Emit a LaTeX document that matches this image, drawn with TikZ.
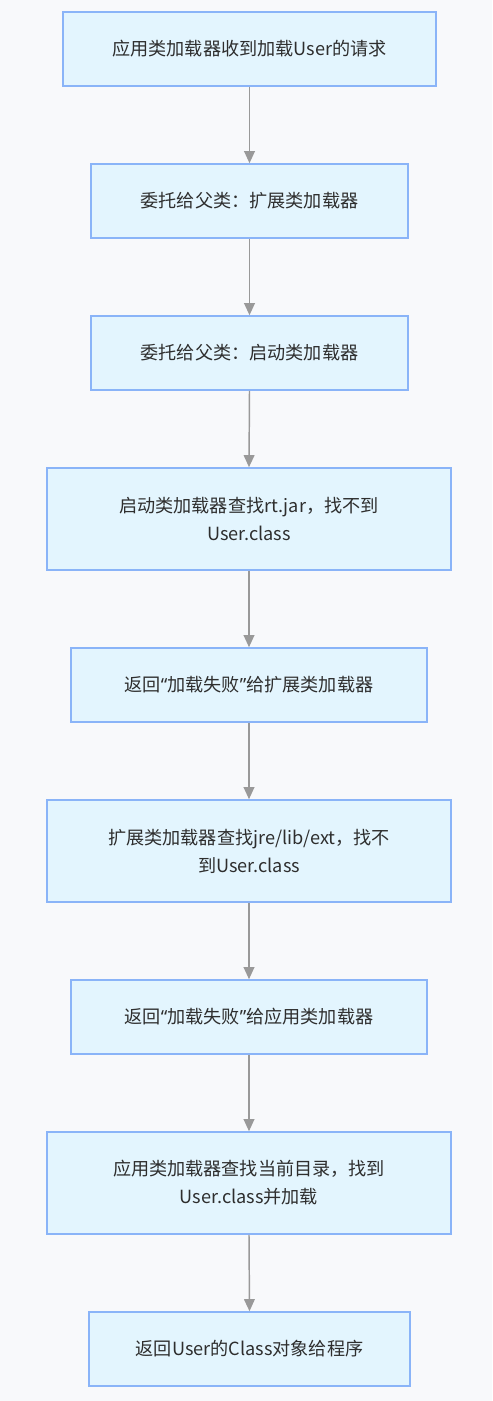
\documentclass[tikz,border=0pt]{standalone}
\usepackage{fontspec}
\setmainfont{Noto Sans CJK SC}
\newfontfamily\latinq{Noto Sans}
\newcommand{\myLq}{{\latinq “}}
\newcommand{\myRq}{{\latinq ”}}
\usetikzlibrary{arrows.meta}
\definecolor{bgc}{HTML}{F8F9FB}
\definecolor{boxfill}{HTML}{E3F5FE}
\definecolor{boxline}{HTML}{8AB4F8}
\definecolor{arrc}{HTML}{999999}
\begin{document}
\begin{tikzpicture}[x=0.75pt,y=-0.75pt,
  stepbox/.style={draw=boxline,fill=boxfill,line width=1.2pt,align=center,
    font=\fontsize{13.6pt}{21pt}\selectfont,text=black!82,inner sep=0pt},
  conn/.style={draw=arrc,line width=1.1pt,-{Triangle[length=9pt,width=8pt,fill=arrc]}}]
\fill[bgc] (0,0) rectangle (492,1401);
\useasboundingbox (0,0) rectangle (492,1401);
\node[stepbox,minimum width=373*0.75pt,minimum height=74*0.75pt] (n1) at (249.5,49) {应用类加载器收到加载User的请求};
\node[stepbox,minimum width=317*0.75pt,minimum height=74*0.75pt] (n2) at (249.5,201) {委托给父类：扩展类加载器};
\node[stepbox,minimum width=317*0.75pt,minimum height=74*0.75pt] (n3) at (249.5,353) {委托给父类：启动类加载器};
\node[stepbox,minimum width=404*0.75pt,minimum height=102*0.75pt] (n4) at (249,519) {启动类加载器查找rt.jar，找不到\\User.class};
\node[stepbox,minimum width=356*0.75pt,minimum height=74*0.75pt] (n5) at (249,685) {返回\myLq 加载失败\myRq 给扩展类加载器};
\node[stepbox,minimum width=404*0.75pt,minimum height=102*0.75pt] (n6) at (249,851) {扩展类加载器查找jre/lib/ext，找不\\到User.class};
\node[stepbox,minimum width=356*0.75pt,minimum height=74*0.75pt] (n7) at (249,1017) {返回\myLq 加载失败\myRq 给应用类加载器};
\node[stepbox,minimum width=404*0.75pt,minimum height=102*0.75pt] (n8) at (249,1183) {应用类加载器查找当前目录，找到\\User.class并加载};
\node[stepbox,minimum width=321*0.75pt,minimum height=74*0.75pt] (n9) at (249.5,1349) {返回User的Class对象给程序};
\foreach \a/\b in {n1/n2,n2/n3,n3/n4,n4/n5,n5/n6,n6/n7,n7/n8,n8/n9}
  \draw[conn] (\a.south) -- (\b.north);
\end{tikzpicture}
\end{document}
